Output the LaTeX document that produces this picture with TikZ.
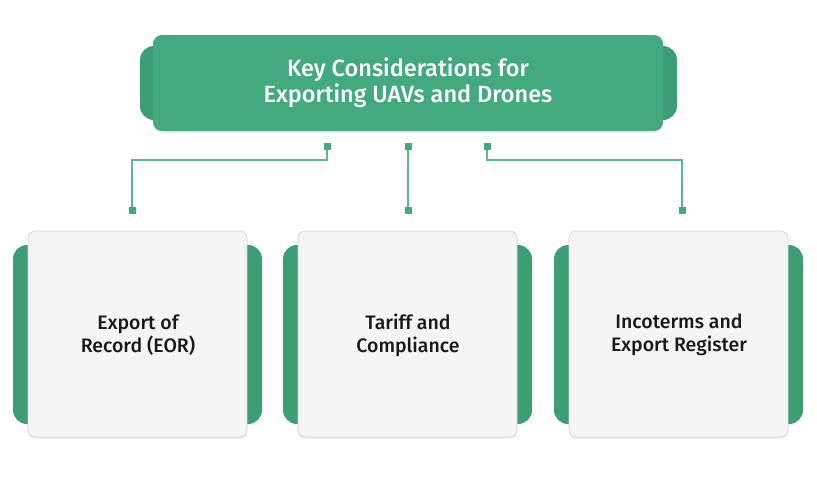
\documentclass[tikz,border=0pt]{standalone}
\usepackage{fontspec}
\setmainfont{Fira Sans}[BoldFont={Fira Sans Medium}]
\usetikzlibrary{shadows}
\definecolor{gmain}{HTML}{43AA80}
\definecolor{gtab}{HTML}{3D9E75}
\definecolor{cardbg}{HTML}{F5F5F5}
\definecolor{linec}{HTML}{5CB892}
\tikzset{
  tab/.style={fill=gtab, rounded corners=14pt},
  topbox/.style={fill=gmain, rounded corners=9pt, drop shadow={shadow xshift=0pt, shadow yshift=-2pt, opacity=0.15}},
  card/.style={fill=cardbg, draw=black!18, line width=0.6pt, rounded corners=7pt, drop shadow={shadow xshift=0pt, shadow yshift=-2pt, opacity=0.12}},
  conn/.style={draw=linec, line width=1.3pt},
  marker/.style={fill=gmain, minimum size=7pt, inner sep=0pt, outer sep=0pt},
  toptext/.style={text=white, font=\fontsize{23.5}{26}\selectfont\bfseries, align=center},
  cardtext/.style={text=black!90, font=\fontsize{19.5}{23}\selectfont\bfseries, align=center},
}
\begin{document}
\begin{tikzpicture}[x=1pt,y=-1pt]
\useasboundingbox (0,0) rectangle (817,493);
% top
\fill[tab] (140,46) rectangle (677,120);
\path[topbox] (153,35) rectangle (663,131);
\node[toptext] (title) at (408,83) {Key Considerations for\\Exporting UAVs and Drones};
% cards
\foreach \i/\x in {1/28,2/298,3/569}{
  \fill[tab] (\x-15,245) rectangle (\x+234,424);
  \path[card] (\x,231) rectangle (\x+219,437);
}
\node[cardtext] (c1) at (138,335) {Export of\\Record (EOR)};
\node[cardtext] (c2) at (408,335) {Tariff and\\Compliance};
\node[cardtext] (c3) at (679,335) {Incoterms and\\Export Register};
% markers
\node[marker] (t1) at (327,146) {};
\node[marker] (t2) at (408,146) {};
\node[marker] (t3) at (487,146) {};
\node[marker] (b1) at (132,210) {};
\node[marker] (b2) at (408,210) {};
\node[marker] (b3) at (682,210) {};
\coordinate (h1) at (327,160);
\coordinate (h3) at (487,160);
\draw[conn] (t1.center) -- (h1) -| (b1.center);
\draw[conn] (t2.center) -- (b2.center);
\draw[conn] (t3.center) -- (h3) -| (b3.center);
\node[marker] at (t1) {};
\node[marker] at (t2) {};
\node[marker] at (t3) {};
\node[marker] at (b1) {};
\node[marker] at (b2) {};
\node[marker] at (b3) {};
\end{tikzpicture}
\end{document}
